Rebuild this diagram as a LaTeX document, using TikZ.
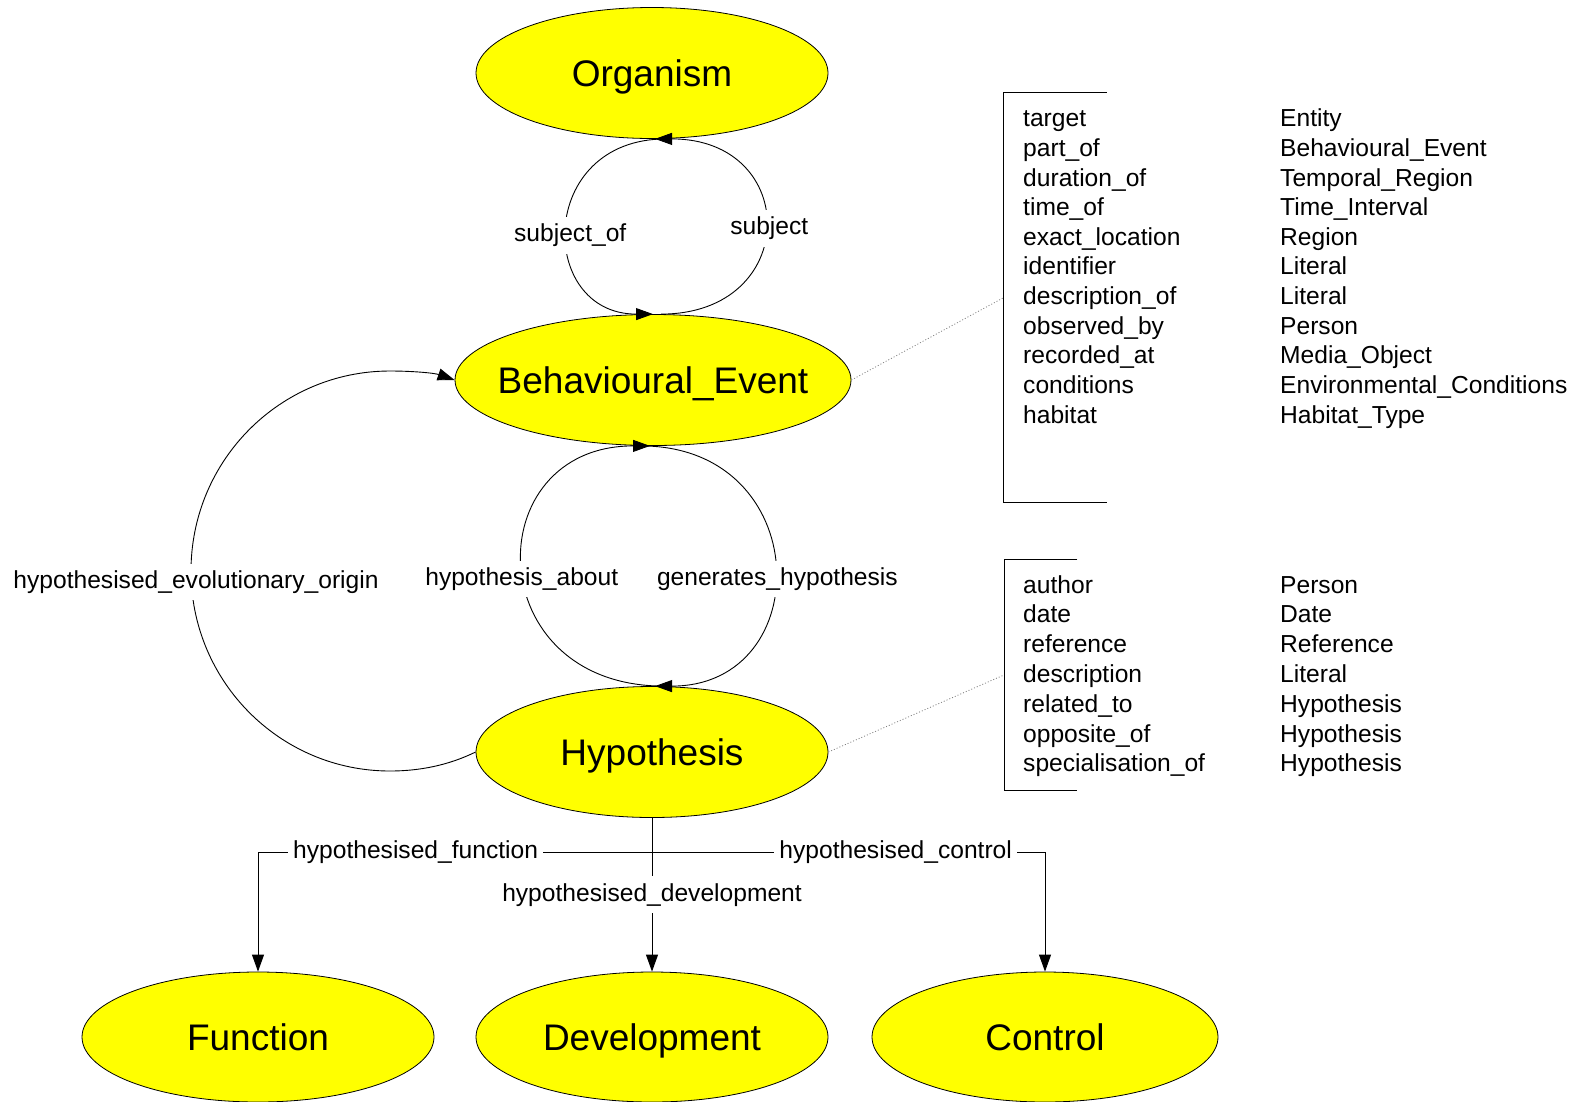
\documentclass[tikz,border=0pt]{standalone}
\usepackage{fontspec}
\setmainfont{Liberation Sans}
\usetikzlibrary{shapes.geometric,arrows.meta}
\definecolor{yel}{RGB}{255,255,0}
\begin{document}
\begin{tikzpicture}[x=1pt,y=-1pt,
  cls/.style={ellipse, draw=black, line width=0.8pt, fill=yel, inner sep=0pt,
    minimum width=352pt, minimum height=131pt,
    font=\fontsize{37pt}{44pt}\selectfont, text depth=0pt},
  lbl/.style={fill=white, inner xsep=5pt, inner ysep=7pt, font=\fontsize{24.6pt}{29pt}\selectfont},
  edge/.style={draw=black, line width=0.9pt},
  arr/.style={edge, -{Triangle[length=17pt,width=12pt]}},
  prop/.style={anchor=base west, inner sep=0pt, font=\fontsize{24.6pt}{29pt}\selectfont},
  note/.style={draw=gray, line width=0.8pt, dash pattern=on 1pt off 2pt},
  frame/.style={anchor=north west, inner sep=0pt}
]
\useasboundingbox (0,0) rectangle (1579,1101);

% classes
\node[cls] (org) at (652,73) {Organism};
\node[cls, minimum width=396pt] (be) at (653,380) {\makebox[0pt]{Behavioural\_Event}};
\node[cls] (hyp) at (652,752) {Hypothesis};
\node[cls, minimum height=130pt] (func) at (258,1037) {Function};
\node[cls, minimum height=130pt] (dev) at (652,1037) {Development};
\node[cls, minimum width=346pt, minimum height=130pt] (ctrl) at (1045,1037) {Control};

% Organism <-> Behavioural_Event
\draw[arr] ([xshift=14pt]org.south) .. controls +(-130,0) and +(-116,0) ..
  node[lbl, xshift=3pt, yshift=-9pt] (l1) {subject\_of} (be.north);
\draw[arr] ([xshift=8pt]be.north) .. controls +(140,0) and +(146,0) ..
  node[lbl, xshift=4pt, yshift=-2pt] (l2) {subject} ([xshift=3pt]org.south);

% Behavioural_Event <-> Hypothesis
\draw[arr] ([xshift=12pt]hyp.north) .. controls +(-185,0) and +(-173,0) ..
  node[lbl, xshift=-1pt, yshift=-13pt] (l3) {hypothesis\_about} ([xshift=-3pt]be.south);
\draw[arr] ([xshift=-12pt]be.south) .. controls +(174,0) and +(163,0) ..
  node[lbl, xshift=3pt, yshift=-13pt] (l4) {generates\_hypothesis} ([xshift=3pt]hyp.north);

% evolutionary origin loop
\coordinate (ebot) at (390,771);
\coordinate (eleft) at (191,571);
\coordinate (etop) at (390,371);
\draw[arr] (hyp.west) .. controls (448.8,765.1) and (420.2,771) .. (ebot)
  .. controls (280,771) and (191,681.5) .. (eleft)
  node[lbl, xshift=5pt, yshift=-11pt] (l5) {hypothesised\_evolutionary\_origin}
  .. controls (191,460.5) and (280,371) .. (etop)
  .. controls (411.9,371) and +(-20.7,-7.1) .. (be.west);

% Hypothesis -> Function / Development / Control
\coordinate (hj) at (652,852);
\draw[arr] (hyp.south) -- (hj) -- node[lbl, pos=0.6] (l6) {hypothesised\_function}
  (hj -| func.north) -- (func.north);
\draw[arr] (hyp.south) -- (hj) -- node[lbl, pos=0.62] (l7) {hypothesised\_control}
  (hj -| ctrl.north) -- (ctrl.north);
\draw[arr] (hyp.south) -- node[lbl, pos=0.5] (l8) {hypothesised\_development} (dev.north);

% property tables
\node[frame, minimum width=103pt, minimum height=410pt] (tab1) at (1003.5,92.5) {};
\draw[edge] (tab1.north east) -- (tab1.north west) -- (tab1.south west) -- (tab1.south east);
\node[frame, minimum width=73pt, minimum height=231.5pt] (tab2) at (1004,559) {};
\draw[edge] (tab2.north east) -- (tab2.north west) -- (tab2.south west) -- (tab2.south east);

\draw[note] (be.east) -- (tab1.west);
\draw[note] (hyp.east) -- (tab2.west);

\foreach [count=\i from 0] \a/\b in {target/Entity, part\_of/Behavioural\_Event,
  duration\_of/Temporal\_Region, time\_of/Time\_Interval, exact\_location/Region,
  identifier/Literal, description\_of/Literal, observed\_by/Person,
  recorded\_at/Media\_Object, conditions/Environmental\_Conditions, habitat/Habitat\_Type}
{
  \node[prop] (pa\i) at (1023,{126.7+29.65*\i}) {\a};
  \node[prop] (pb\i) at (1280,{126.7+29.65*\i}) {\b};
}
\foreach [count=\i from 0] \a/\b in {author/Person, date/Date, reference/Reference,
  description/Literal, related\_to/Hypothesis, opposite\_of/Hypothesis,
  specialisation\_of/Hypothesis}
{
  \node[prop] (qa\i) at (1023,{593+29.8*\i}) {\a};
  \node[prop] (qb\i) at (1280,{593+29.8*\i}) {\b};
}
\end{tikzpicture}
\end{document}
